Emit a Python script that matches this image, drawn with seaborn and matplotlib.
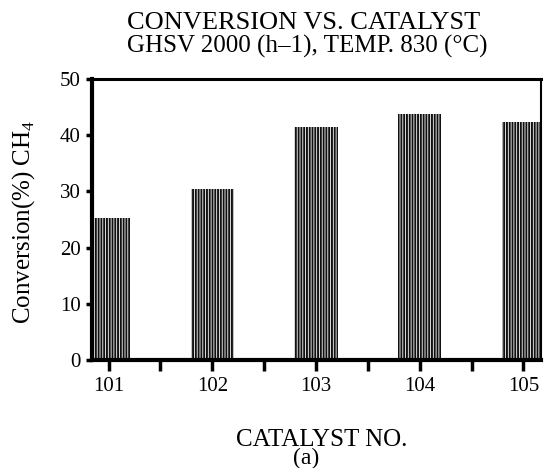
import matplotlib
matplotlib.use("Agg")
import matplotlib.pyplot as plt
import seaborn as sns
import pandas as pd
from matplotlib.ticker import FixedLocator

catalysts = ["101", "102", "103", "104", "105"]
conversion = [25.2, 30.5, 41.5, 43.8, 42.4]
y_ticks = [0, 10, 20, 30, 40, 50]

sns.set_theme(style="white")
plt.rcParams["font.family"] = ["Liberation Serif", "DejaVu Serif"]
plt.rcParams["mathtext.fontset"] = "custom"
plt.rcParams["mathtext.rm"] = "Liberation Serif"
plt.rcParams["hatch.linewidth"] = 1.4
plt.rcParams["hatch.color"] = "black"

df = pd.DataFrame({"catalyst": catalysts, "conversion": conversion})

W, H = 544, 468
fig = plt.figure(figsize=(W / 100, H / 100), dpi=100)
ax = fig.add_axes([92 / W, 1 - 360 / H, (541 - 92) / W, (360 - 79) / H])

sns.barplot(data=df, x="catalyst", y="conversion", ax=ax, color="white",
            width=0.42, edgecolor="none", linewidth=0, saturation=1)
for p in ax.patches:
    p.set_hatch("||||||")
    p.set_edgecolor("#111111")
    p.set_linewidth(0)

ax.set_xlim(-0.16, 4.17)
ax.set_ylim(0, 50)
ax.set_yticks(y_ticks)
ax.set_yticklabels([str(v) for v in y_ticks], fontsize=15)
ax.set_xticks(range(len(catalysts)))
ax.set_xticklabels(catalysts, fontsize=15)
ax.xaxis.set_minor_locator(FixedLocator([0.5, 1.5, 2.5, 3.5]))
ax.tick_params(axis="x", which="major", direction="out", length=8, width=2.5,
               bottom=True, pad=4, colors="black")
ax.tick_params(axis="x", which="minor", direction="out", length=8, width=2.5,
               bottom=True, colors="black")
ax.tick_params(axis="y", which="major", direction="out", length=4, width=2.5,
               left=True, pad=4, colors="black")
ax.set_xlabel("")
ax.set_ylabel("")

for side, lw in [("left", 3), ("bottom", 3), ("top", 2.2), ("right", 1.5)]:
    ax.spines[side].set_visible(True)
    ax.spines[side].set_color("black")
    ax.spines[side].set_linewidth(lw)

fig.text(304 / W, 1 - 23 / H, "CONVERSION VS. CATALYST", ha="center",
         va="center", fontsize=19, color="black")
fig.text(307 / W, 1 - 46 / H, "GHSV 2000 (h\u20131), TEMP. 830 (\u00b0C)",
         ha="center", va="center", fontsize=18, color="black")
fig.text(322 / W, 1 - 446 / H, "CATALYST NO.", ha="center", va="baseline",
         fontsize=18, color="black")
fig.text(306 / W, 1 - 464 / H, "(a)", ha="center", va="baseline",
         fontsize=17, color="black")
fig.text(24 / W, 1 - 222 / H, r"Conversion(%) CH$_4$", ha="center",
         va="center", rotation=90, fontsize=18, color="black")

fig.savefig("out.png", dpi=100)
